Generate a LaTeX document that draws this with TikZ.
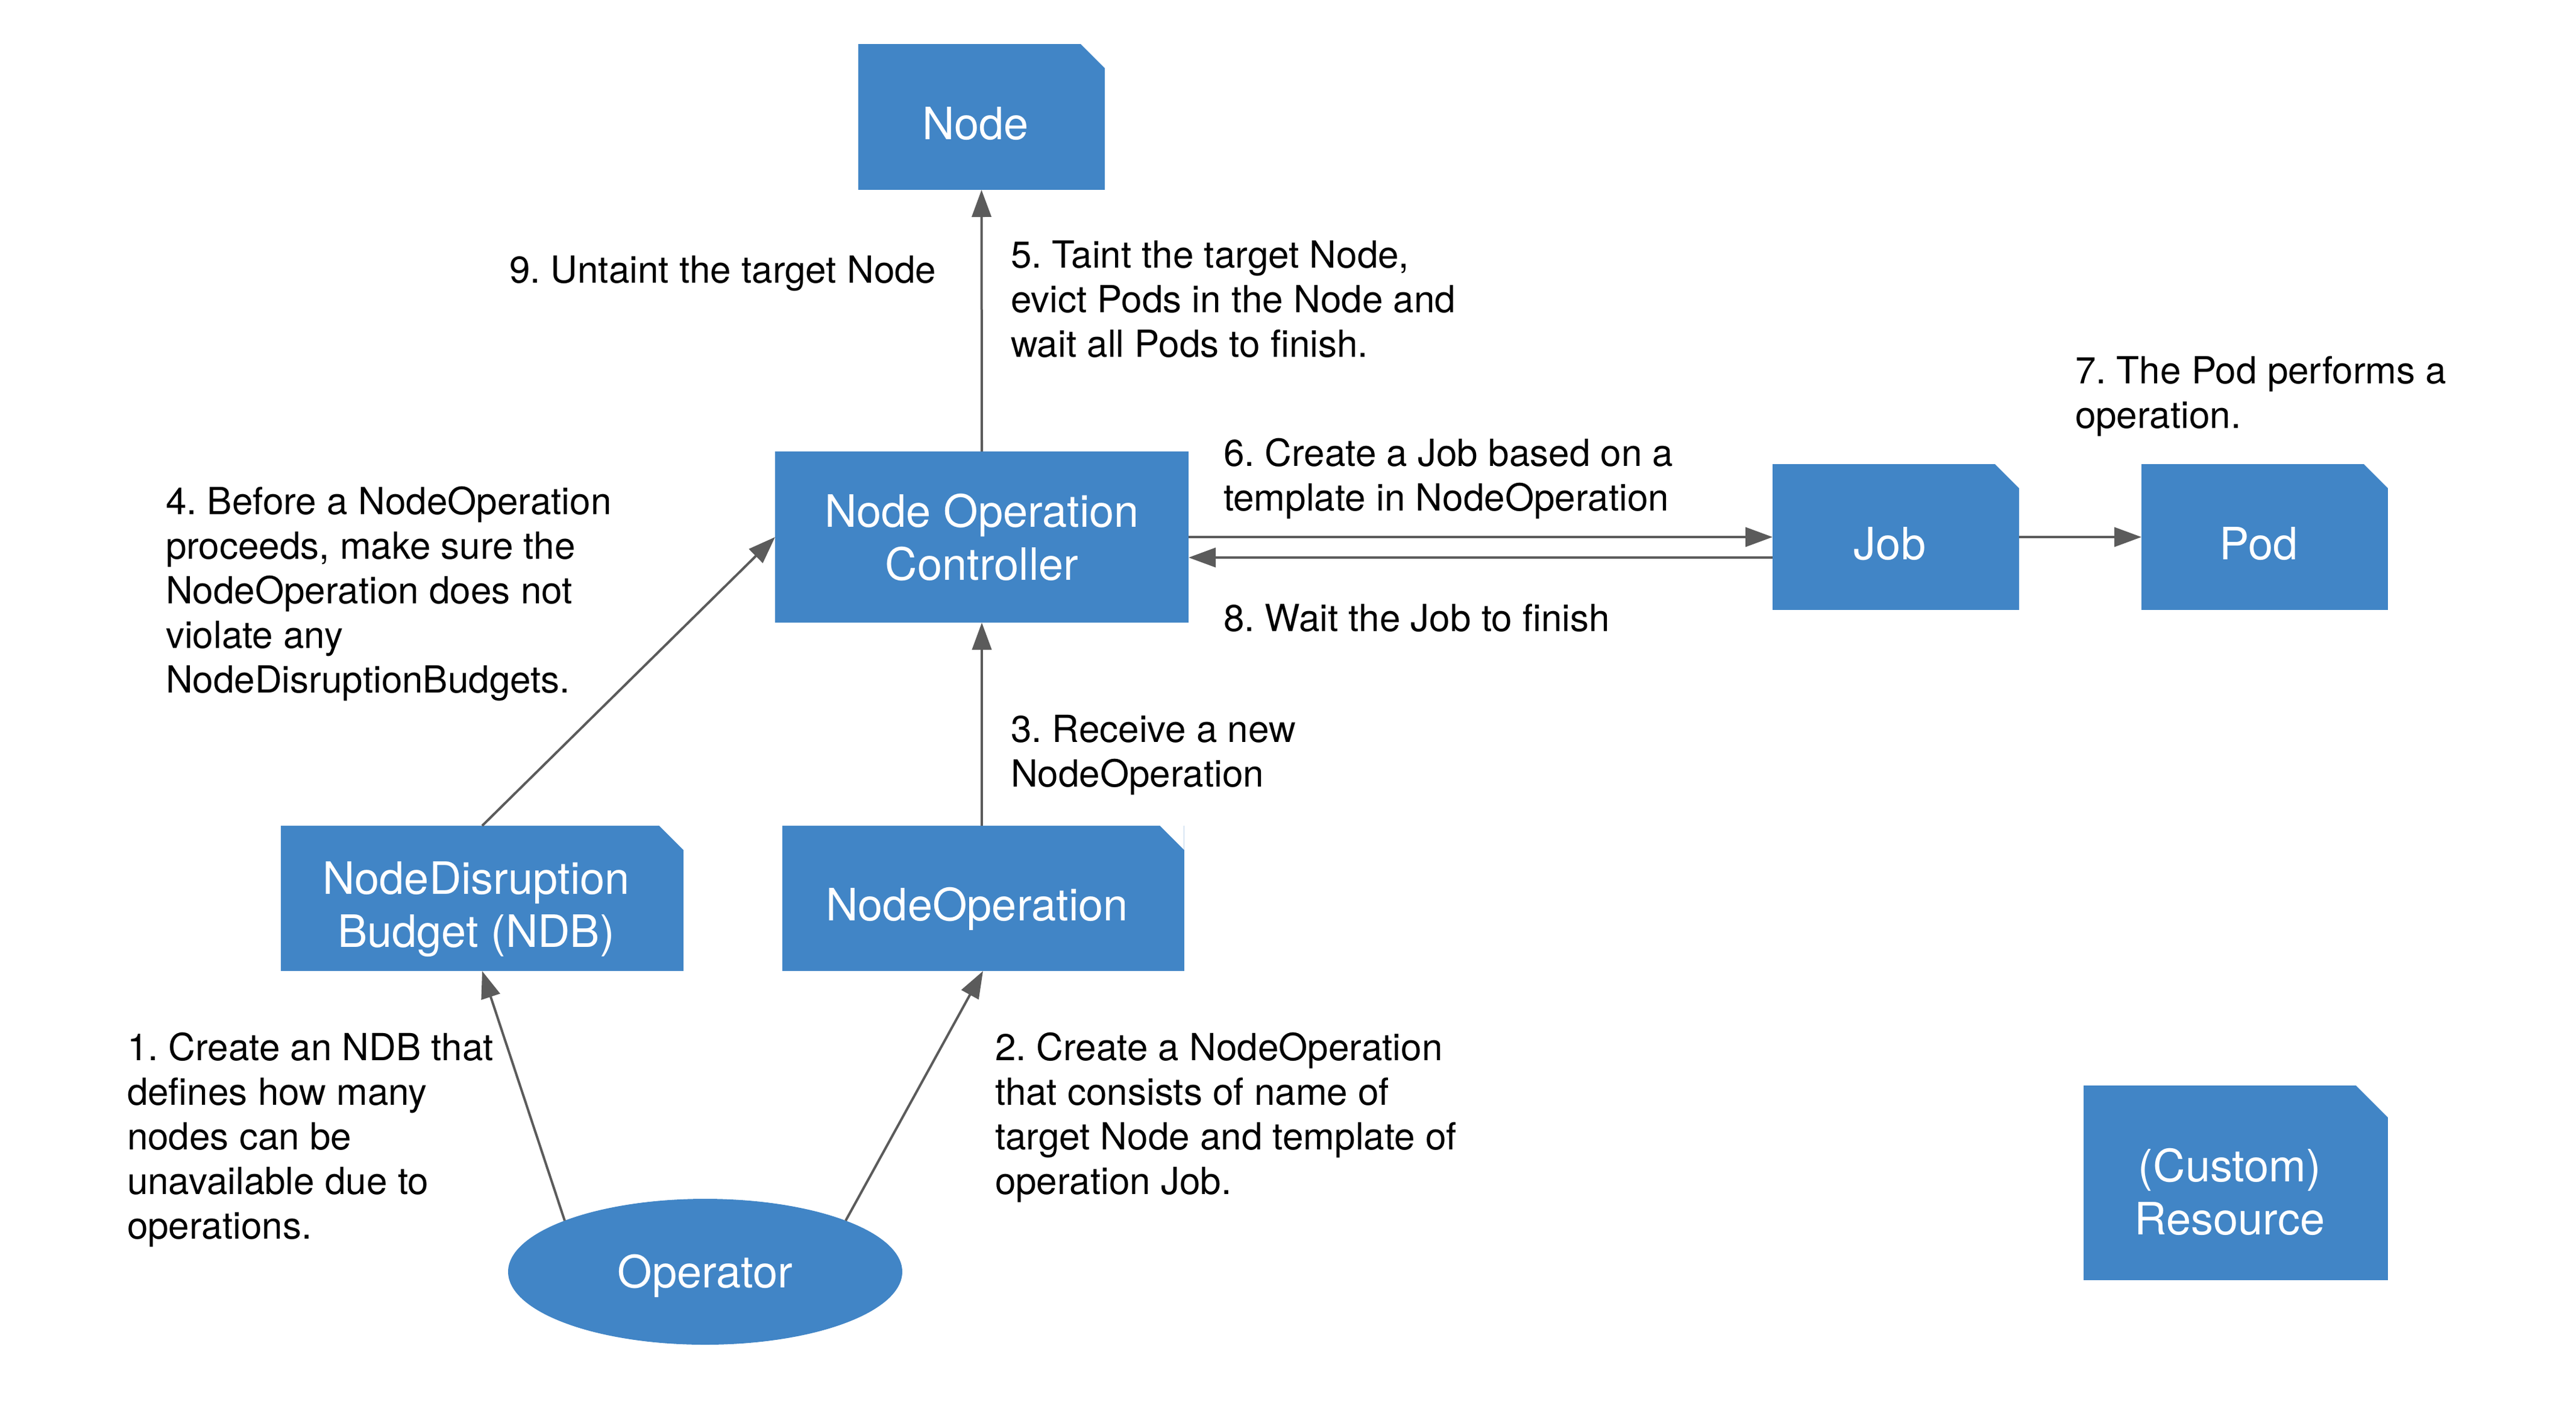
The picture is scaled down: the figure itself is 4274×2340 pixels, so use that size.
\documentclass[tikz,border=0pt]{standalone}
\usepackage{fontspec}
\setmainfont{TeX Gyre Heros}
\usetikzlibrary{arrows.meta,shapes.geometric}
\definecolor{boxblue}{RGB}{65,133,198}
\definecolor{arrowgray}{RGB}{91,91,91}
\newcommand\topgap[1]{\rule{0pt}{#1}}
\newcommand\botgap[1]{\rule[-#1]{0pt}{#1}}
\newcommand\rpad{\rule{20pt}{0pt}}
\newcommand\boxfont{\fontsize{74}{88}\selectfont}
\newcommand\lblfont{\fontsize{62}{74}\selectfont\frenchspacing}
\begin{document}
\frenchspacing
\begin{tikzpicture}[x=1pt,y=-1pt,
  box/.style={fill=boxblue, text=white, font=\boxfont, align=center, inner sep=0pt, outer sep=0pt},
  cutcorner/.style={path picture={\fill[white] ([xshift=-#1]path picture bounding box.north east) -- (path picture bounding box.north east) -- ([yshift=-#1]path picture bounding box.north east) -- cycle;}},
  lbl/.style={font=\lblfont, align=left, inner sep=0pt, outer sep=0pt, anchor=north west, text=black},
  conn/.style={draw=arrowgray, line width=4pt, -{Triangle[length=45pt,width=32pt]}}
]
\useasboundingbox (0,0) rectangle (4274,2340);

% boxes
\node[box, cutcorner=40pt, minimum width=409pt, minimum height=242pt] (node) at (1628.5,194) {\topgap{94pt}\botgap{20pt}Node\rpad};
\node[box, minimum width=686pt, minimum height=284pt] (ctrl) at (1629,891) {\topgap{74pt}Node Operation\\Controller\botgap{20pt}};
\node[box, cutcorner=40pt, minimum width=409pt, minimum height=242pt] (job) at (3145.5,891) {\topgap{94pt}\botgap{20pt}Job\rpad};
\node[box, cutcorner=40pt, minimum width=409pt, minimum height=242pt] (pod) at (3757.5,891) {\topgap{94pt}\botgap{20pt}Pod\rpad};
\node[box, cutcorner=40pt, minimum width=668pt, minimum height=241pt] (ndb) at (800,1490.5) {\topgap{94pt}NodeDisruption\rpad\\Budget (NDB)\botgap{20pt}\rpad};
\node[box, cutcorner=40pt, minimum width=667pt, minimum height=241pt] (nop) at (1631,1490.5) {\topgap{94pt}\botgap{20pt}NodeOperation\rpad};
\node[box, cutcorner=53pt, minimum width=505pt, minimum height=323pt] (cr) at (3709.5,1962.5) {\topgap{104pt}(Custom)\rpad\\Resource\botgap{20pt}\rpad};
\node[box, ellipse, minimum width=654pt, minimum height=242pt] (op) at (1170,2110) {\topgap{73pt}\botgap{20pt}Operator};

% labels
\node[lbl] (l9) at (845,417.2) {\strut 9. Untaint the target Node};
\node[lbl] (l5) at (1677,392.2) {\strut 5. Taint the target Node,\\evict Pods in the Node and\\wait all Pods to finish.};
\node[lbl] (l7) at (3443,584.2) {\strut 7. The Pod performs a\\operation.};
\node[lbl] (l6) at (2030,721.2) {\strut 6. Create a Job based on a\\template in NodeOperation};
\node[lbl] (l8) at (2030,995.2) {\strut 8. Wait the Job to finish};
\node[lbl] (l4) at (275,801.2) {\strut 4. Before a NodeOperation\\proceeds, make sure the\\NodeOperation does not\\violate any\\NodeDisruptionBudgets.};
\node[lbl] (l3) at (1677,1179.2) {\strut 3. Receive a new\\NodeOperation};
\node[lbl] (l1) at (211,1707.2) {\strut 1. Create an NDB that\\defines how many\\nodes can be\\unavailable due to\\operations.};
\node[lbl] (l2) at (1651,1707.2) {\strut 2. Create a NodeOperation\\that consists of name of\\target Node and template of\\operation Job.};

% connectors
\draw[conn] (ctrl.north) -- (node.south);
\draw[conn] (ctrl.east) -- (job.west);
\draw[conn] ([yshift=-34pt]job.west) -- ([yshift=-34pt]ctrl.east);
\draw[conn] (job.east) -- (pod.west);
\draw[conn] (nop.north -| ctrl.south) -- (ctrl.south);
\draw[conn] (ndb.north) -- (ctrl.west);
\draw[conn] (op.160) -- (ndb.south);
\draw[conn] (op.20) -- (nop.south);
\end{tikzpicture}
\end{document}
